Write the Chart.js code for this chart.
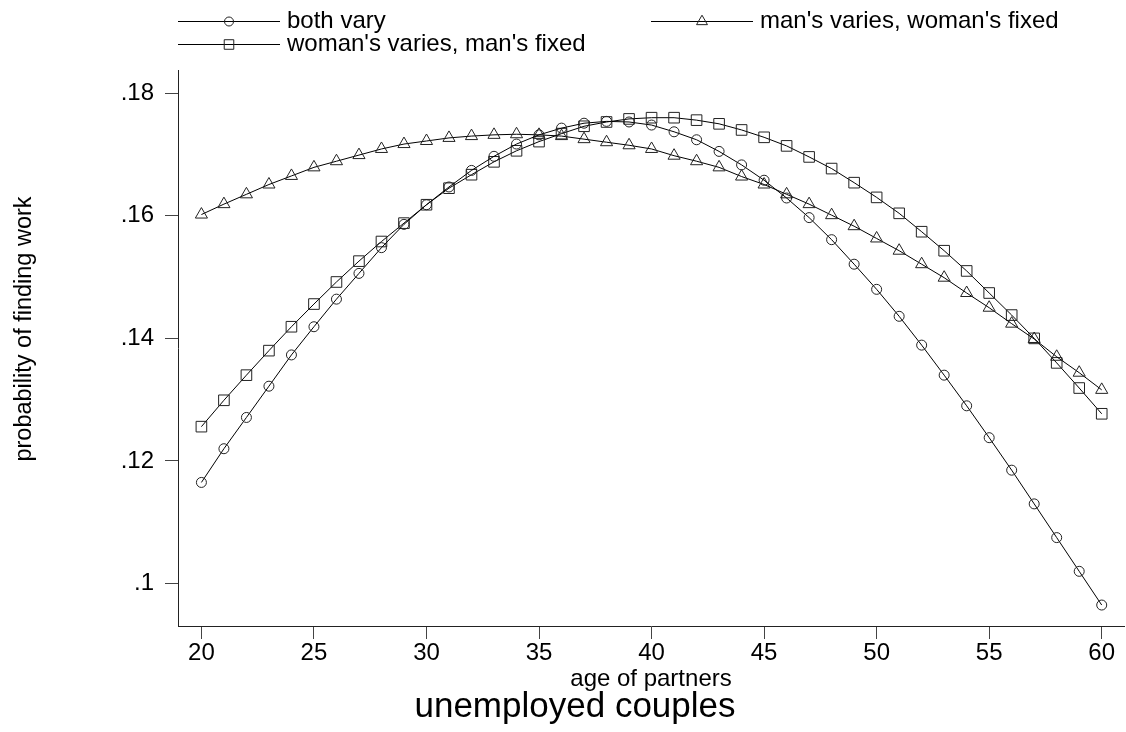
<!DOCTYPE html>
<html>
<head>
<meta charset="utf-8">
<script src="https://cdn.jsdelivr.net/npm/chart.js@4.4.1/dist/chart.umd.min.js"></script>
<style>
  html, body { margin: 0; padding: 0; background: #fff; }
  #wrap { width: 1126px; height: 732px; position: relative; }
  canvas { display: block; }
</style>
</head>
<body>
<div id="wrap"><canvas id="c" width="1126" height="732"></canvas></div>
<script>
// Age of both partners (x axis)
const ages = [20, 21, 22, 23, 24, 25, 26, 27, 28, 29,
              30, 31, 32, 33, 34, 35, 36, 37, 38, 39,
              40, 41, 42, 43, 44, 45, 46, 47, 48, 49,
              50, 51, 52, 53, 54, 55, 56, 57, 58, 59, 60];

// Predicted probability of finding work
const bothVary = [0.1165, 0.1220, 0.1271, 0.1322, 0.1373, 0.1419, 0.1464, 0.1506, 0.1548, 0.1586,
                  0.1618, 0.1647, 0.1674, 0.1697, 0.1717, 0.1732, 0.1743, 0.1751, 0.1754, 0.1753,
                  0.1748, 0.1737, 0.1724, 0.1705, 0.1683, 0.1658, 0.1629, 0.1597, 0.1561, 0.1521,
                  0.1480, 0.1436, 0.1389, 0.1340, 0.1290, 0.1238, 0.1185, 0.1130, 0.1075, 0.1020, 0.0965];

const mansVaries = [0.1602, 0.1619, 0.1635, 0.1651, 0.1665, 0.1679, 0.1689, 0.1699, 0.1709, 0.1717,
                    0.1722, 0.1727, 0.1730, 0.1732, 0.1733, 0.1732, 0.1730, 0.1725, 0.1720, 0.1715,
                    0.1709, 0.1698, 0.1689, 0.1679, 0.1664, 0.1651, 0.1635, 0.1619, 0.1601, 0.1583,
                    0.1563, 0.1543, 0.1521, 0.1499, 0.1474, 0.1450, 0.1424, 0.1399, 0.1370, 0.1344, 0.1316];

const womansVaries = [0.1256, 0.1299, 0.1340, 0.1380, 0.1419, 0.1456, 0.1492, 0.1526, 0.1558, 0.1588,
                      0.1618, 0.1645, 0.1667, 0.1688, 0.1706, 0.1721, 0.1734, 0.1746, 0.1753, 0.1758,
                      0.1760, 0.1760, 0.1756, 0.1750, 0.1740, 0.1728, 0.1714, 0.1696, 0.1677, 0.1654,
                      0.1630, 0.1604, 0.1574, 0.1543, 0.1510, 0.1474, 0.1438, 0.1400, 0.1360, 0.1319, 0.1277];

const seriesNames = ['both vary', "man's varies, woman's fixed", "woman's varies, man's fixed"];

const xTicks = [20, 25, 30, 35, 40, 45, 50, 55, 60];
const yTicks = [0.10, 0.12, 0.14, 0.16, 0.18];
const yTickLabels = ['.1', '.12', '.14', '.16', '.18'];

const chartTitle = 'unemployed couples';
const xTitle = 'age of partners';
const yTitle = 'probability of finding work';

const FONT = '"Liberation Sans", Arial, Helvetica, sans-serif';

function toPoints(values) {
  return ages.map((a, i) => ({ x: a, y: values[i] }));
}

function series(label, values, style, radius) {
  return {
    label: label,
    data: toPoints(values),
    borderColor: '#000',
    borderWidth: 1,
    fill: false,
    tension: 0,
    pointStyle: style,
    pointRadius: radius,
    pointHoverRadius: radius,
    pointBorderColor: '#222',
    pointBackgroundColor: 'rgba(0,0,0,0)',
    pointBorderWidth: 1
  };
}

// Legend, axis titles and graph title, placed Stata-style
const stataText = {
  id: 'stataText',
  afterDraw(chart) {
    const ctx = chart.ctx;
    const area = chart.chartArea;
    ctx.save();

    const items = [
      { ds: 0, x0: 178, y: 21 },
      { ds: 1, x0: 651, y: 21 },
      { ds: 2, x0: 178, y: 44 }
    ];
    items.forEach(it => {
      const ds = chart.data.datasets[it.ds];
      ctx.strokeStyle = '#000';
      ctx.lineWidth = 1;
      ctx.beginPath();
      ctx.moveTo(it.x0, it.y + 0.5);
      ctx.lineTo(it.x0 + 102, it.y + 0.5);
      ctx.stroke();
      ctx.strokeStyle = '#222';
      ctx.fillStyle = 'rgba(0,0,0,0)';
      Chart.helpers.drawPoint(ctx, {
        pointStyle: ds.pointStyle,
        radius: ds.pointRadius * 0.9,
        borderWidth: 1,
        rotation: 0
      }, it.x0 + 51, it.y + 0.5);
      ctx.fillStyle = '#000';
      ctx.font = '24px ' + FONT;
      ctx.textAlign = 'left';
      ctx.textBaseline = 'middle';
      ctx.fillText(ds.label, it.x0 + 109, it.y);
    });

    // x axis title
    ctx.fillStyle = '#000';
    ctx.font = '24px ' + FONT;
    ctx.textAlign = 'center';
    ctx.textBaseline = 'middle';
    ctx.fillText(xTitle, (area.left + area.right) / 2, 679);

    // y axis title
    ctx.save();
    ctx.translate(25, 329);
    ctx.rotate(-Math.PI / 2);
    ctx.font = '23.5px ' + FONT;
    ctx.fillText(yTitle, 0, 0);
    ctx.restore();

    // graph title
    ctx.font = '35px ' + FONT;
    ctx.fillText(chartTitle, 575, 707);

    ctx.restore();
  }
};

new Chart(document.getElementById('c'), {
  type: 'line',
  data: {
    datasets: [
      series(seriesNames[0], bothVary, 'circle', 5),
      series(seriesNames[1], mansVaries, 'triangle', 7),
      series(seriesNames[2], womansVaries, 'rect', 7.5)
    ]
  },
  options: {
    responsive: false,
    animation: false,
    devicePixelRatio: 1,
    layout: { autoPadding: false, padding: { top: 70, right: 2, left: 0, bottom: 0 } },
    plugins: {
      legend: { display: false },
      tooltip: { enabled: false },
      title: { display: false }
    },
    scales: {
      x: {
        type: 'linear',
        min: 18.96,
        max: 60.99,
        afterBuildTicks: (scale) => { scale.ticks = xTicks.map(v => ({ value: v })); },
        afterFit: (scale) => {
          scale.height = 106;
          scale.paddingLeft = 0;
          scale.paddingRight = 0;
        },
        grid: { drawOnChartArea: false, drawTicks: true, tickLength: 13, color: '#444', lineWidth: 1 },
        border: { display: true, color: '#222', width: 1 },
        ticks: {
          color: '#000',
          padding: 0,
          maxRotation: 0,
          font: { family: FONT, size: 24 },
          callback: (v) => String(v)
        }
      },
      y: {
        type: 'linear',
        min: 0.09308,
        max: 0.18378,
        afterBuildTicks: (scale) => { scale.ticks = yTicks.map(v => ({ value: v })); },
        afterFit: (scale) => {
          scale.width = 178;
          scale.paddingTop = 0;
          scale.paddingBottom = 0;
        },
        grid: { drawOnChartArea: false, drawTicks: true, tickLength: 13, color: '#444', lineWidth: 1 },
        border: { display: true, color: '#222', width: 1 },
        ticks: {
          color: '#000',
          padding: 11,
          font: { family: FONT, size: 24 },
          callback: (v, i) => yTickLabels[i]
        }
      }
    }
  },
  plugins: [stataText]
});
</script>
</body>
</html>
